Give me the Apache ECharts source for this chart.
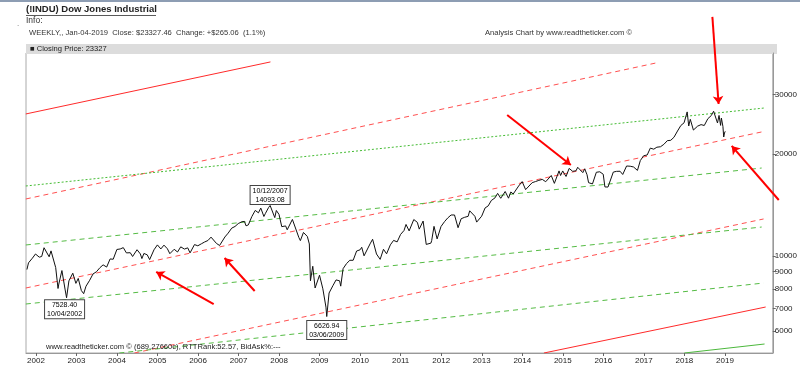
<!DOCTYPE html>
<html><head><meta charset="utf-8">
<script src="https://cdn.jsdelivr.net/npm/echarts@6/dist/echarts.min.js"></script>
<style>html,body{margin:0;padding:0;background:#fff}#c{width:800px;height:376px}</style>
</head><body><div id="c"></div>
<script>
// ---- price data (weekly closes, sampled) ----
const dates = ['2001-10-12','2001-10-26','2001-11-09','2001-11-30','2001-12-28','2002-01-31','2002-02-22','2002-03-15','2002-04-30','2002-05-17','2002-06-28','2002-07-19','2002-07-26','2002-08-23','2002-09-20','2002-10-04','2002-10-25','2002-11-29','2002-12-27','2003-01-17','2003-02-14','2003-03-07','2003-03-28','2003-04-30','2003-05-30','2003-06-30','2003-07-31','2003-08-29','2003-09-30','2003-10-31','2003-11-28','2003-12-31','2004-01-30','2004-02-27','2004-03-26','2004-04-30','2004-05-21','2004-06-30','2004-07-30','2004-08-13','2004-08-31','2004-09-30','2004-10-22','2004-11-30','2004-12-31','2005-01-31','2005-02-28','2005-03-31','2005-04-22','2005-05-31','2005-06-30','2005-07-29','2005-08-31','2005-09-30','2005-10-21','2005-11-30','2005-12-30','2006-01-31','2006-02-28','2006-03-31','2006-04-28','2006-05-12','2006-06-16','2006-07-14','2006-08-31','2006-09-29','2006-10-31','2006-11-30','2006-12-29','2007-01-31','2007-02-23','2007-03-09','2007-03-30','2007-04-30','2007-05-31','2007-06-29','2007-07-20','2007-08-17','2007-08-31','2007-09-28','2007-10-12','2007-11-23','2007-12-07','2007-12-31','2008-01-25','2008-02-29','2008-03-14','2008-04-30','2008-05-16','2008-06-27','2008-07-11','2008-08-08','2008-09-12','2008-09-30','2008-10-10','2008-10-31','2008-11-21','2008-12-31','2009-01-30','2009-02-27','2009-03-06','2009-03-27','2009-04-30','2009-05-29','2009-06-30','2009-07-10','2009-07-31','2009-08-31','2009-09-30','2009-10-30','2009-11-30','2009-12-31','2010-01-15','2010-02-05','2010-03-31','2010-04-23','2010-05-28','2010-06-30','2010-07-02','2010-07-30','2010-08-27','2010-09-30','2010-10-29','2010-11-30','2010-12-31','2011-01-31','2011-02-18','2011-03-18','2011-04-29','2011-05-31','2011-06-17','2011-07-22','2011-08-19','2011-09-30','2011-10-07','2011-10-28','2011-11-25','2011-12-30','2012-01-31','2012-02-29','2012-03-30','2012-04-30','2012-06-01','2012-06-29','2012-07-31','2012-08-31','2012-09-14','2012-10-31','2012-11-16','2012-12-31','2013-01-31','2013-02-28','2013-03-28','2013-04-30','2013-05-24','2013-06-21','2013-07-31','2013-08-30','2013-09-20','2013-10-11','2013-11-29','2013-12-31','2014-01-31','2014-02-07','2014-03-31','2014-04-30','2014-05-30','2014-06-30','2014-07-31','2014-08-08','2014-09-19','2014-10-17','2014-11-28','2014-12-12','2014-12-31','2015-01-30','2015-02-27','2015-03-31','2015-04-30','2015-05-15','2015-06-30','2015-07-17','2015-08-07','2015-08-21','2015-09-25','2015-10-30','2015-11-30','2015-12-31','2016-01-15','2016-02-12','2016-03-31','2016-04-29','2016-05-31','2016-06-24','2016-07-29','2016-08-31','2016-09-30','2016-11-04','2016-11-30','2016-12-30','2017-01-31','2017-02-28','2017-03-31','2017-04-28','2017-05-31','2017-06-30','2017-07-31','2017-08-31','2017-09-29','2017-10-31','2017-11-30','2017-12-29','2018-01-26','2018-02-09','2018-02-23','2018-03-23','2018-04-30','2018-05-31','2018-06-29','2018-07-31','2018-08-31','2018-09-21','2018-10-05','2018-10-26','2018-11-09','2018-11-23','2018-11-30','2018-12-14','2018-12-21','2018-12-28','2019-01-04'];
const closes = [9120,9545,9608,9852,10137,9920,9968,10577,9946,10353,9243,8019,8264,9058,7986,7528.40,8444,8896,8303,8587,7908,7740,8145,8480,8850,8985,9234,9416,9275,9801,9782,10454,10488,10584,10212,10226,9966,10435,10140,9825,10174,10080,9758,10428,10783,10490,10766,10504,10157,10467,10275,10641,10482,10569,10215,10806,10718,10865,10993,11109,11367,11380,10890,10740,11381,11679,12081,12222,12463,12622,12647,12276,12354,13063,13628,13409,13851,13079,13358,13896,14093.08,12981,13625,13265,12207,12266,11951,12820,12986,11346,11100,11734,11421,10851,8451,9325,8046,8776,8001,7063,6626.94,7776,8168,8500,8447,8147,9172,9496,9712,9713,10345,10428,10610,10012,10857,11204,10137,9774,9686,10466,10150,10788,11118,11006,11578,11892,12391,11859,12811,12570,12004,12681,10818,10913,11103,12231,11231,12218,12633,12952,13212,13214,12119,12880,13009,13091,13594,13096,12588,13104,13861,14054,14579,14840,15303,14800,15500,14810,15452,15237,16086,16577,15699,15794,16458,16581,16717,16827,16563,16553,17280,16380,17828,17280,17823,17165,18133,17776,17841,18272,17620,18086,17373,16460,16315,17664,17720,17425,15988,15974,17685,17774,17787,17400,18432,18401,18308,17888,19124,19763,19864,20812,20663,20941,21009,21350,21891,21948,22405,23377,24272,24719,26617,24190,25310,23533,24163,24416,24271,25415,25965,26743,26447,24689,25989,24286,25538,24101,22445,23062,23327.46];

// ---- annotated extremes ----
const annotDates = ['2007-10-12','2002-10-04','2009-03-06'];
const annotLabels = ['10/12/2007\n14093.08','7528.40\n10/04/2002','6626.94\n03/06/2009'];
const annotValues = [14093.08,7528.40,6626.94];

// ---- axis ticks ----
const yearTicks = [2002,2003,2004,2005,2006,2007,2008,2009,2010,2011,2012,2013,2014,2015,2016,2017,2018,2019];
const priceTicks = [6000,7000,8000,9000,10000,20000,30000];

// ---- trend lines: [startDate, startPrice, endDate, endPrice] ----
const redSolidLines = [
  ['2001-10-02',26250,'2007-10-15',37380],
  ['2014-07-15',5173,'2020-01-03',7071]
];
const redDashedLines = [
  ['2001-10-02',14730,'2017-04-22',37130],
  ['2001-10-02',8045,'2019-11-28',23230],
  ['2004-06-06',5173,'2019-12-15',12860]
];
const greenDottedLines = [
  ['2001-10-02',16090,'2019-12-24',27340]
];
const greenDashedLines = [
  ['2001-10-02',10777,'2019-11-28',18180],
  ['2001-10-02',7216,'2019-11-28',12175],
  ['2004-01-22',5173,'2019-12-15',8322]
];
const greenSolidLines = [
  ['2018-01-01',5173,'2019-12-24',5499]
];
// ---- annotation arrows: [tailDate, tailPrice, headDate, headPrice] ----
const arrows = [
  ['2018-09-10',50750,'2018-11-05',28090],
  ['2013-08-18',26080,'2015-03-14',18560],
  ['2020-04-30',14630,'2019-03-03',21120],
  ['2006-05-22',7216,'2004-12-20',8971],
  ['2007-05-26',7882,'2006-08-28',9865]
];

function yf(s){
  const p=s.split('-').map(Number);
  const d0=Date.UTC(p[0],0,1), d1=Date.UTC(p[0]+1,0,1), d=Date.UTC(p[0],p[1]-1,p[2]);
  return p[0]+(d-d0)/(d1-d0);
}
const priceData = dates.map((d,i)=>[yf(d),closes[i]]);

const RED='#ff2a2a', GREEN='#4cb83c';
const series=[];
function addLines(list,color,type,width,dash){
  list.forEach(l=>{
    series.push({type:'line',data:[[yf(l[0]),l[1]],[yf(l[2]),l[3]]],showSymbol:false,silent:true,
      lineStyle:{color:color,width:width,type:dash||type},z:2});
  });
}
addLines(redSolidLines,RED,'solid',1);
addLines(redDashedLines,'#ff5050','dashed',1,[5,4]);
addLines(greenDottedLines,'#44bb33','dotted',1,[2,2]);
addLines(greenDashedLines,'#55bb44','dashed',1,[5,4]);
addLines(greenSolidLines,GREEN,'solid',1);

series.push({type:'line',data:priceData,showSymbol:false,lineStyle:{color:'#111',width:1},z:5,
  markPoint:{symbol:'circle',symbolSize:1,itemStyle:{color:'rgba(0,0,0,0)'},
    label:{show:true,color:'#000',fontSize:7,fontFamily:'Liberation Sans',backgroundColor:'#fff',borderColor:'#444',borderWidth:1,padding:[1,2,0,2],lineHeight:8.5},
    data:annotDates.map((d,i)=>({coord:[yf(d),annotValues[i]],value:annotValues[i],
      label:{formatter:annotLabels[i],position:i===0?'top':'bottom',distance:i===0?1:(i===1?2:4),offset:i===1?[-2,0]:[0,0]}}))
  }});

series.push({type:'lines',coordinateSystem:'cartesian2d',clip:false,silent:true,z:10,
  symbol:['none','arrow'],symbolSize:8,
  lineStyle:{color:'#ff0000',width:2,opacity:1},
  data:arrows.map(a=>({coords:[[yf(a[0]),a[1]],[yf(a[2]),a[3]]]}))});

const chart=echarts.init(document.getElementById('c'),null,{renderer:'canvas'});
const F='Liberation Sans';
chart.setOption({
  animation:false,
  backgroundColor:'#fff',
  grid:{left:26,right:23,top:53,bottom:23,show:true,borderColor:'#aaa',borderWidth:1},
  xAxis:{type:'value',min:2001.755,max:2020.18,
    axisLine:{lineStyle:{color:'#999'}},
    axisTick:{customValues:yearTicks,length:3,lineStyle:{color:'#666'}},
    axisLabel:{customValues:yearTicks,fontSize:8,fontFamily:F,color:'#222',margin:4,formatter:v=>String(Math.round(v))},
    splitLine:{show:false}},
  yAxis:{type:'log',logBase:10,position:'right',min:5173,max:39720,
    axisLine:{show:true,lineStyle:{color:'#999'}},
    axisTick:{show:true,customValues:priceTicks,length:3,lineStyle:{color:'#666'}},
    axisLabel:{customValues:priceTicks,fontSize:8,fontFamily:F,color:'#222',margin:2,formatter:v=>String(Math.round(v))},
    splitLine:{show:false},minorTick:{show:false}},
  series:series,
  graphic:[
    {type:'rect',shape:{x:0,y:0,width:800,height:2},style:{fill:'#8d9db3'},silent:true},
    {type:'text',x:26,y:4,style:{text:'(!INDU) Dow Jones Industrial',font:'bold 9.5px Liberation Sans',fill:'#222'}},
    {type:'rect',shape:{x:26,y:15,width:130,height:0.8},style:{fill:'#222'}},
    {type:'text',x:26,y:16,style:{text:'Info:',font:'8.5px Liberation Sans',fill:'#333'}},
    {type:'text',x:17,y:20,style:{text:'.',font:'8px Liberation Sans',fill:'#666'}},
    {type:'text',x:29,y:29,style:{text:'WEEKLY,, Jan-04-2019  Close: $23327.46  Change: +$265.06  (1.1%)',font:'7.6px Liberation Sans',fill:'#333'}},
    {type:'text',x:485,y:29,style:{text:'Analysis Chart by www.readtheticker.com \u00a9',font:'7.6px Liberation Sans',fill:'#333'}},
    {type:'rect',shape:{x:26,y:44,width:751,height:10},style:{fill:'#dcdcdc'},silent:true},
    {type:'text',x:30,y:45,style:{text:'\u25a0 Closing Price: 23327',font:'7.6px Liberation Sans',fill:'#222'}},
    {type:'text',x:46,y:343,z:20,style:{text:'www.readtheticker.com \u00a9 (689.27660c), RTTRank:52.57, BidAsk%:---',font:'7.6px Liberation Sans',fill:'#222'}}
  ]
});
</script></body></html>
